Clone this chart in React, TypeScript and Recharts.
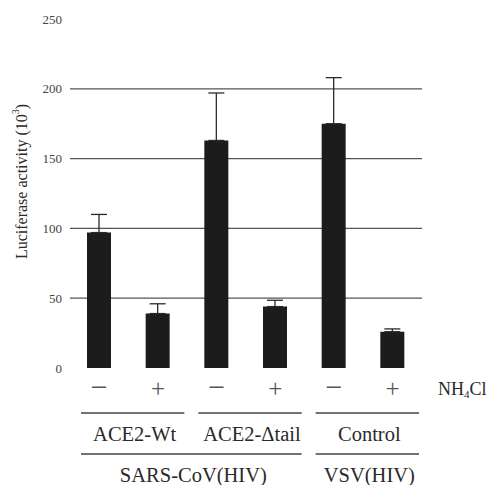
import React from "react";
import { Bar, BarChart, CartesianGrid, ErrorBar, Label, XAxis, YAxis } from "recharts";

const W = 491;
const H = 485;
const margin = { top: 19, right: 69, bottom: 0, left: 0 };
const yAxisWidth = 70;
const serif = '"Liberation Serif", "Times New Roman", serif';

// NH4Cl treatment per bar, left to right
const treatment = ["−", "+", "−", "+", "−", "+"];
const luciferase = [97, 39, 163, 44, 175, 26];
const errors = [13, 7, 34, 4.5, 33, 2];

const receptors = [
    { label: "ACE2-Wt", span: 2 },
    { label: "ACE2-Δtail", span: 2 },
    { label: "Control", span: 2 },
];
const viruses = [
    { label: "SARS-CoV(HIV)", span: 4 },
    { label: "VSV(HIV)", span: 2 },
];

const yTicks = [0, 50, 100, 150, 200, 250];
const gridValues = [50, 100, 150, 200];

// only the upper whisker is drawn in the original
const data = treatment.map((t, i) => ({ id: i, sign: t, value: luciferase[i], err: [0, errors[i]] }));

const withStarts = (groups: { label: string; span: number }[]) => {
    let acc = 0;
    return groups.map(g => {
        const start = acc;
        acc += g.span;
        return { ...g, start };
    });
};
const receptorGroups = withStarts(receptors);
const virusGroups = withStarts(viruses);

const band = (W - margin.left - margin.right - yAxisWidth) / data.length;

const GroupLine = ({ x, y, span, label, textY }: any) => {
    const left = x - band / 2 + 11;
    const right = x - band / 2 + span * band - 3;
    return (
        <g>
            <line x1={left} x2={right} y1={y} y2={y} stroke="#444" strokeWidth={1.4} />
            <text x={(left + right) / 2 + 2} y={textY} textAnchor="middle" fontSize={20.5} fill="#2a2a2a" fontFamily={serif}>
                {label}
            </text>
        </g>
    );
};

const CategoryTick = (props: any) => {
    const { x, y, index } = props;
    const sign = treatment[index];
    const rec = receptorGroups.find(g => g.start === index);
    const vir = virusGroups.find(g => g.start === index);
    return (
        <g>
            <text x={x} y={y + 29} textAnchor="middle" fontSize={sign === "+" ? 25 : 30} fill="#555" fontFamily={serif}>
                {sign}
            </text>
            {rec && <GroupLine x={x} y={y + 45} span={rec.span} label={rec.label} textY={y + 73} />}
            {vir && <GroupLine x={x} y={y + 86} span={vir.span} label={vir.label} textY={y + 114} />}
            {index === data.length - 1 && (
                <text x={x + band / 2 + 16} y={y + 27} fontSize={18} fill="#2a2a2a" fontFamily={serif}>
                    NH<tspan fontSize={11} dy={3}>4</tspan><tspan dy={-3}>Cl</tspan>
                </text>
            )}
        </g>
    );
};

const AxisTitle = (props: any) => {
    const vb = props.viewBox;
    const cx = vb.x + 21;
    const cy = vb.y + vb.height / 2 - 12;
    return (
        <text x={cx} y={cy} transform={`rotate(-90 ${cx} ${cy})`} textAnchor="middle" dominantBaseline="central"
              fontSize={16} fill="#2a2a2a" fontFamily={serif}>
            Luciferase activity (10<tspan fontSize={10} dy={-6}>3</tspan><tspan dy={6}>)</tspan>
        </text>
    );
};

const App = () => {
    return (
        <div style={{ position: "absolute", left: 0, top: 0, width: W, height: H, background: "#fff" }}>
            <BarChart width={W} height={H} data={data} margin={margin}>
                <CartesianGrid vertical={false} horizontalValues={gridValues} stroke="#555" strokeWidth={1.3} />
                <XAxis dataKey="id" height={117} axisLine={false} tickLine={false} tickSize={0} tickMargin={0}
                       interval={0} tick={(p: any) => <CategoryTick {...p} />} />
                <YAxis domain={[0, 250]} ticks={yTicks} axisLine={false} tickLine={false} width={yAxisWidth}
                       tick={{ fontSize: 13, fill: "#444", fontFamily: serif }}>
                    <Label content={AxisTitle} />
                </YAxis>
                <Bar dataKey="value" barSize={24} fill="#1c1c1c" isAnimationActive={false}>
                    <ErrorBar dataKey="err" width={8} strokeWidth={1.3} stroke="#2a2a2a" direction="y" isAnimationActive={false} />
                </Bar>
            </BarChart>
        </div>
    );
};

export default App;
